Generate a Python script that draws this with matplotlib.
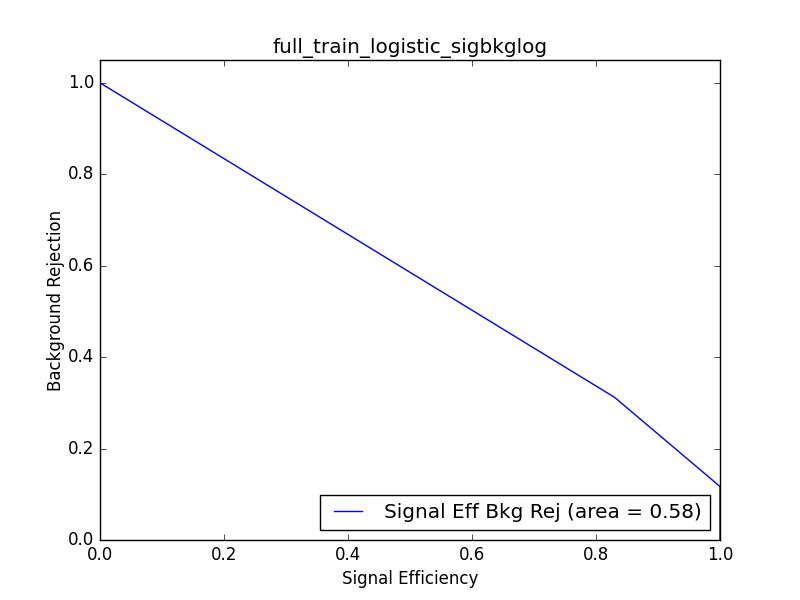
import matplotlib
matplotlib.use('Agg')
import matplotlib.pyplot as plt

plt.style.use('classic')

sig_eff = [0.0, 0.83, 1.0, 1.0]
bkg_rej = [1.0, 0.312, 0.117, 0.0]
area = 0.58

fig = plt.figure(figsize=(8, 6), dpi=100)
ax = fig.add_subplot(111)
ax.plot(sig_eff, bkg_rej, color='b', label='Signal Eff Bkg Rej (area = %0.2f)' % area)
ax.set_xlim(0.0, 1.0)
ax.set_ylim(0.0, 1.05)
ax.set_xlabel('Signal Efficiency')
ax.set_ylabel('Background Rejection', labelpad=2)
ax.set_title('full_train_logistic_sigbkglog')
ax.legend(loc='lower right')
fig.savefig('out.png', dpi=100)
